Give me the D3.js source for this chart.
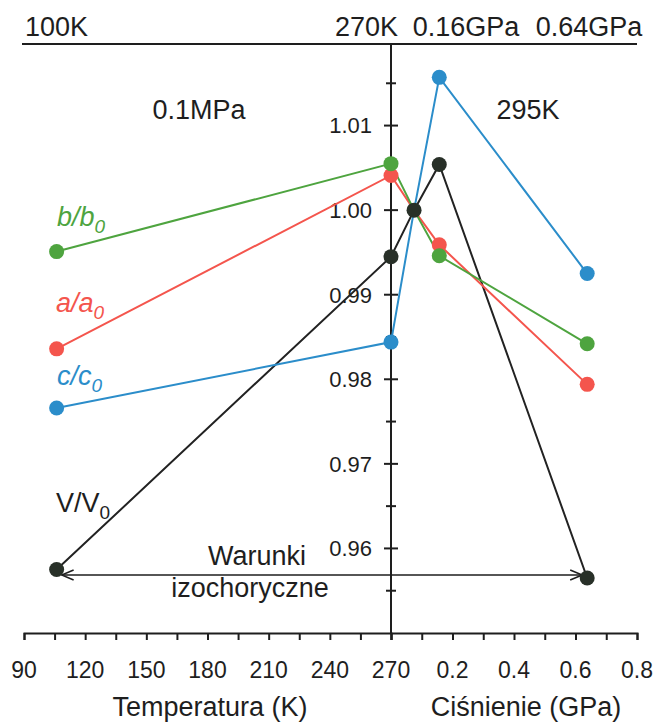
<!DOCTYPE html>
<html>
<head>
<meta charset="utf-8">
<script src="https://cdn.jsdelivr.net/npm/d3@7"></script>
<style>
  html, body { margin: 0; padding: 0; background: #fff; }
  svg { display: block; font-family: "Liberation Sans", Arial, sans-serif; }
</style>
</head>
<body>
<svg id="chart" width="656" height="722"></svg>
<script>
// Lattice parameter ratios: first two stations on the temperature branch (0.1 MPa),
// then the ambient reference point, then two stations on the pressure branch (295 K).
const stations = [
  { branch: "T", x: 106 },    // ~100 K
  { branch: "T", x: 270 },    // 270 K
  { branch: "P", x: 0.075 },  // ambient reference
  { branch: "P", x: 0.157 },  // 0.16 GPa
  { branch: "P", x: 0.638 }   // 0.64 GPa
];

const seriesNames = ["b/b0", "a/a0", "c/c0", "V/V0"];
const bValues = [0.9951, 1.0055, 1.0000, 0.9946, 0.9842];
const aValues = [0.9836, 1.0041, 1.0000, 0.9959, 0.9794];
const cValues = [0.9766, 0.9844, 1.0000, 1.0157, 0.9925];
const vValues = [0.9575, 0.9945, 1.0000, 1.0054, 0.9565];
const seriesColors = ["#4ea43f", "#f4554d", "#2b8dca", "#222222"];

const tempTicks = [90, 105, 120, 135, 150, 165, 180, 195, 210, 225, 240, 255, 270];
const tempLabels = [90, 120, 150, 180, 210, 240, 270];
const presTicks = [0.1, 0.2, 0.3, 0.4, 0.5, 0.6, 0.7, 0.8];
const presLabels = [0.2, 0.4, 0.6, 0.8];
const yMajor = [0.96, 0.97, 0.98, 0.99, 1.00, 1.01];
const yMinor = [0.955, 0.965, 0.975, 0.985, 0.995, 1.005, 1.015];

const svg = d3.select("#chart");
const ink = "#1e1e1e";

const xT = d3.scaleLinear().domain([90, 270]).range([24, 391]);
const xP = d3.scaleLinear().domain([0, 0.8]).range([391, 637]);
const y = d3.scaleLinear().domain([0.95, 1.02]).range([633, 41]);
const xPos = s => s.branch === "T" ? xT(s.x) : xP(s.x);

const axisY = y(0.95);
const topY = 44;

// top rule
svg.append("line").attr("x1", 22).attr("x2", 637).attr("y1", topY).attr("y2", topY)
  .attr("stroke", ink).attr("stroke-width", 2);

// bottom axis, split into temperature and pressure halves
const gT = svg.append("g").attr("transform", `translate(0,${axisY})`)
  .call(d3.axisBottom(xT).tickValues(tempTicks).tickSize(7).tickFormat(""));
const gP = svg.append("g").attr("transform", `translate(0,${axisY})`)
  .call(d3.axisBottom(xP).tickValues(presTicks).tickSize(7).tickFormat(""));
[gT, gP].forEach(g => {
  g.select(".domain").attr("stroke", ink).attr("stroke-width", 2);
  g.selectAll(".tick line").attr("stroke", ink).attr("stroke-width", 2);
});

svg.append("g").selectAll("text").data(tempLabels).join("text")
  .attr("x", d => xT(d)).attr("y", 678).attr("text-anchor", "middle")
  .attr("font-size", 23).attr("fill", ink).text(d => d);
svg.append("g").selectAll("text").data(presLabels).join("text")
  .attr("x", d => xP(d)).attr("y", 678).attr("text-anchor", "middle")
  .attr("font-size", 23).attr("fill", ink).text(d => d.toFixed(1));

svg.append("text").attr("x", 210).attr("y", 716).attr("text-anchor", "middle")
  .attr("font-size", 27).attr("fill", ink).text("Temperatura (K)");
svg.append("text").attr("x", 526).attr("y", 716).attr("text-anchor", "middle")
  .attr("font-size", 27).attr("fill", ink).text("Ciśnienie (GPa)");

// central value axis
const xMid = xT(270);
svg.append("line").attr("x1", xMid).attr("x2", xMid).attr("y1", topY).attr("y2", axisY)
  .attr("stroke", ink).attr("stroke-width", 2);
svg.append("g").selectAll("line").data(yMajor).join("line")
  .attr("x1", xMid - 7).attr("x2", xMid + 7).attr("y1", d => y(d)).attr("y2", d => y(d))
  .attr("stroke", ink).attr("stroke-width", 2);
svg.append("g").selectAll("line").data(yMinor).join("line")
  .attr("x1", xMid - 5).attr("x2", xMid + 5).attr("y1", d => y(d)).attr("y2", d => y(d))
  .attr("stroke", ink).attr("stroke-width", 2);
svg.append("g").selectAll("text").data(yMajor).join("text")
  .attr("x", 372).attr("y", d => y(d)).attr("dy", "0.36em").attr("text-anchor", "end")
  .attr("font-size", 22).attr("fill", ink).text(d => d.toFixed(2));

// isochoric-conditions arrow between the two extreme volume points
const defs = svg.append("defs");
["start", "end"].forEach(k => {
  defs.append("marker").attr("id", "chev-" + k)
    .attr("viewBox", "0 0 14 12").attr("refX", k === "end" ? 13 : 1).attr("refY", 6)
    .attr("markerWidth", 14).attr("markerHeight", 12).attr("markerUnits", "userSpaceOnUse")
    .attr("orient", "auto")
    .append("path")
    .attr("d", k === "end" ? "M1,1 L13,6 L1,11" : "M13,1 L1,6 L13,11")
    .attr("fill", "none").attr("stroke", ink).attr("stroke-width", 1.6);
});
const arrowY = 575;
svg.append("line")
  .attr("x1", xPos(stations[0]) + 5).attr("x2", xPos(stations[4]) - 5)
  .attr("y1", arrowY).attr("y2", arrowY)
  .attr("stroke", ink).attr("stroke-width", 1.6)
  .attr("marker-start", "url(#chev-start)").attr("marker-end", "url(#chev-end)");
svg.append("text").attr("x", 257).attr("y", 565).attr("text-anchor", "middle")
  .attr("font-size", 27).attr("fill", ink).text("Warunki");
svg.append("text").attr("x", 250).attr("y", 597).attr("text-anchor", "middle")
  .attr("font-size", 27).attr("fill", ink).text("izochoryczne");

// series lines and points (the shared reference point is drawn once, in black)
const allValues = [bValues, aValues, cValues, vValues];
const line = d3.line().x((d, i) => xPos(stations[i])).y(d => y(d));
const order = [3, 2, 1, 0];
order.forEach(k => {
  svg.append("path").datum(allValues[k]).attr("d", line)
    .attr("fill", "none").attr("stroke", seriesColors[k]).attr("stroke-width", 2);
});
order.forEach(k => {
  const pts = allValues[k].map((v, i) => ({ v, s: stations[i], i }))
    .filter(p => p.i !== 2 || k === 3);
  svg.append("g").selectAll("circle").data(pts).join("circle")
    .attr("cx", p => xPos(p.s)).attr("cy", p => y(p.v)).attr("r", 7.5)
    .attr("fill", k === 3 ? "#283028" : seriesColors[k]);
});

// series labels with subscript zero
const labelPos = [[57, 226, true], [56, 312, true], [57, 385, true], [56, 512, false]];
seriesNames.forEach((name, k) => {
  const [lx, ly, ital] = labelPos[k];
  const t = svg.append("text").attr("x", lx).attr("y", ly).attr("font-size", 27)
    .attr("fill", k === 3 ? ink : seriesColors[k]).attr("font-style", ital ? "italic" : "normal");
  t.append("tspan").text(name.slice(0, -1));
  t.append("tspan").attr("dy", 7).attr("font-size", 19).text("0");
});

// condition annotations
const ann = [
  ["100K", 25, 36, "start"],
  ["270K", 398, 36, "end"],
  ["0.16GPa", 466, 36, "middle"],
  ["0.64GPa", 589, 36, "middle"],
  ["0.1MPa", 199, 119, "middle"],
  ["295K", 528, 119, "middle"]
];
svg.append("g").selectAll("text").data(ann).join("text")
  .attr("x", d => d[1]).attr("y", d => d[2]).attr("text-anchor", d => d[3])
  .attr("font-size", 27).attr("fill", ink).text(d => d[0]);
</script>
</body>
</html>
